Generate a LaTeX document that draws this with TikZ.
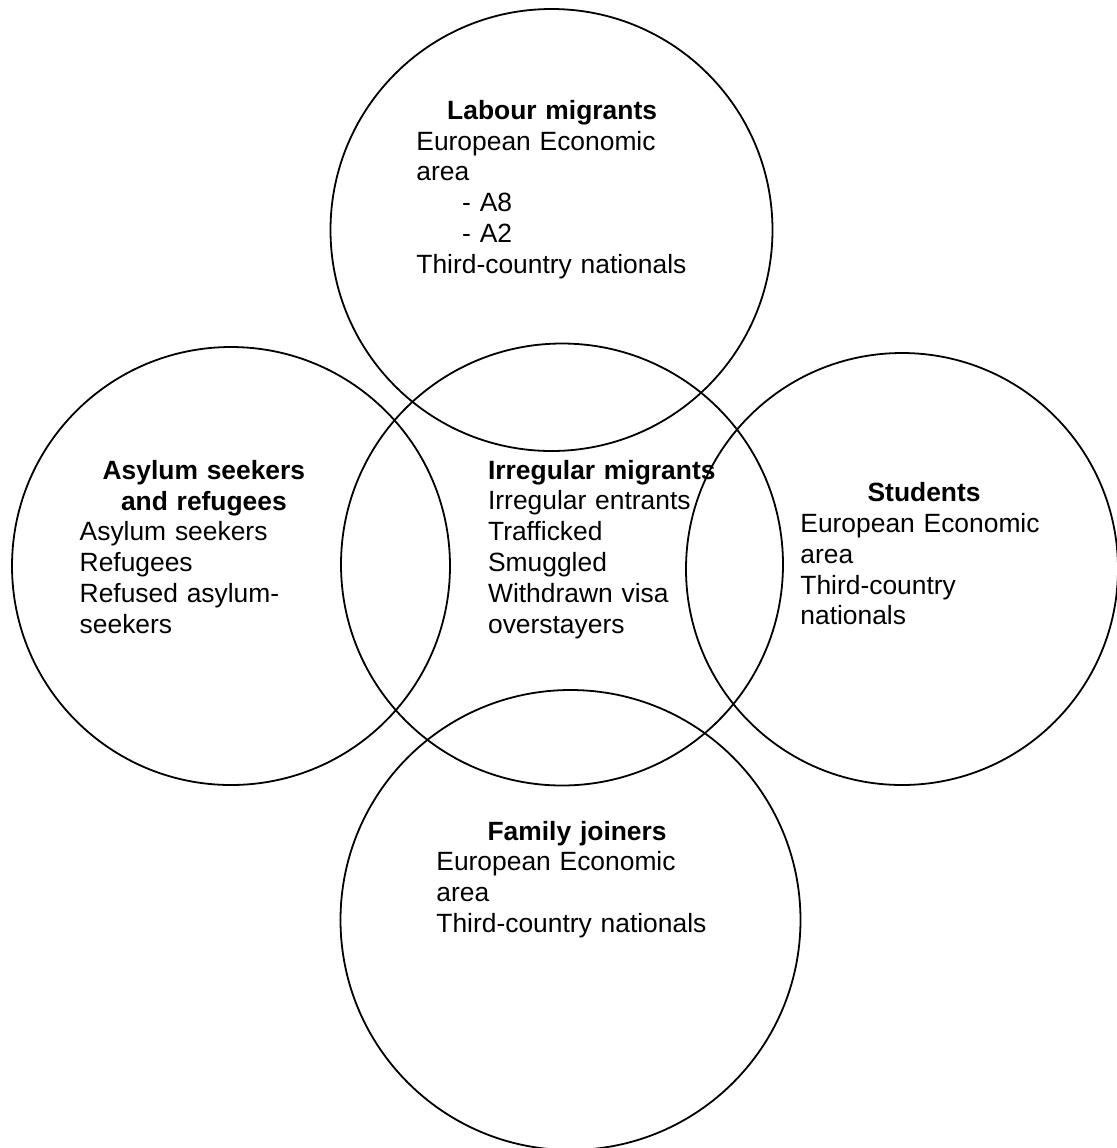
\documentclass[tikz,border=0pt]{standalone}
\usepackage{fontspec}
\setmainfont{Liberation Sans}

\newcommand{\circhead}[1]{{\centering\bfseries #1\par}\raggedright}

\tikzset{
  venn/.style={shape=circle, draw=black, line width=0.9pt, inner sep=0pt},
  venntext/.style={text width=#1, inner sep=0pt, anchor=base west,
                   font=\fontsize{13.2pt}{15.4pt}\selectfont},
}

\begin{document}
\begin{tikzpicture}[x=0.5pt, y=-0.5pt]
    \useasboundingbox (0,0) rectangle (1117,1148);

    %%   (name)                              (x, y)          {}
    \node[venn, minimum size=221pt] (labour)    at (551.5, 230)   {};
    \node[venn, minimum size=219pt] (asylum)    at (231,   566)   {};
    \node[venn, minimum size=221pt] (irregular) at (562,   564.5) {};
    \node[venn, minimum size=216pt] (students)  at (902,   569)   {};
    \node[venn, minimum size=230pt] (family)    at (570.5, 920)   {};

    \node[venntext=135.7pt] (labourtxt) at (416, 119.3)
        {\circhead{Labour migrants}European Economic\\area\\
         \hspace*{22.9pt}- A8\\\hspace*{22.9pt}- A2\\Third-country nationals};
    \node[venntext=124.2pt] (asylumtxt) at (79.3, 479.3)
        {\circhead{Asylum seekers\\and refugees}Asylum seekers\\Refugees\\
         Refused asylum-\\seekers};
    \node[venntext=118pt] (irregulartxt) at (487.7, 479)
        {\raggedright\textbf{Irregular migrants}\\Irregular entrants\\Trafficked\\
         Smuggled\\Withdrawn visa\\overstayers};
    \node[venntext=123.7pt] (studentstxt) at (800, 501.7)
        {\circhead{Students}European Economic\\area\\Third-country\\nationals};
    \node[venntext=140.7pt] (familytxt) at (436, 840)
        {\circhead{Family joiners}European Economic\\area\\Third-country nationals};

\end{tikzpicture}
\end{document}
